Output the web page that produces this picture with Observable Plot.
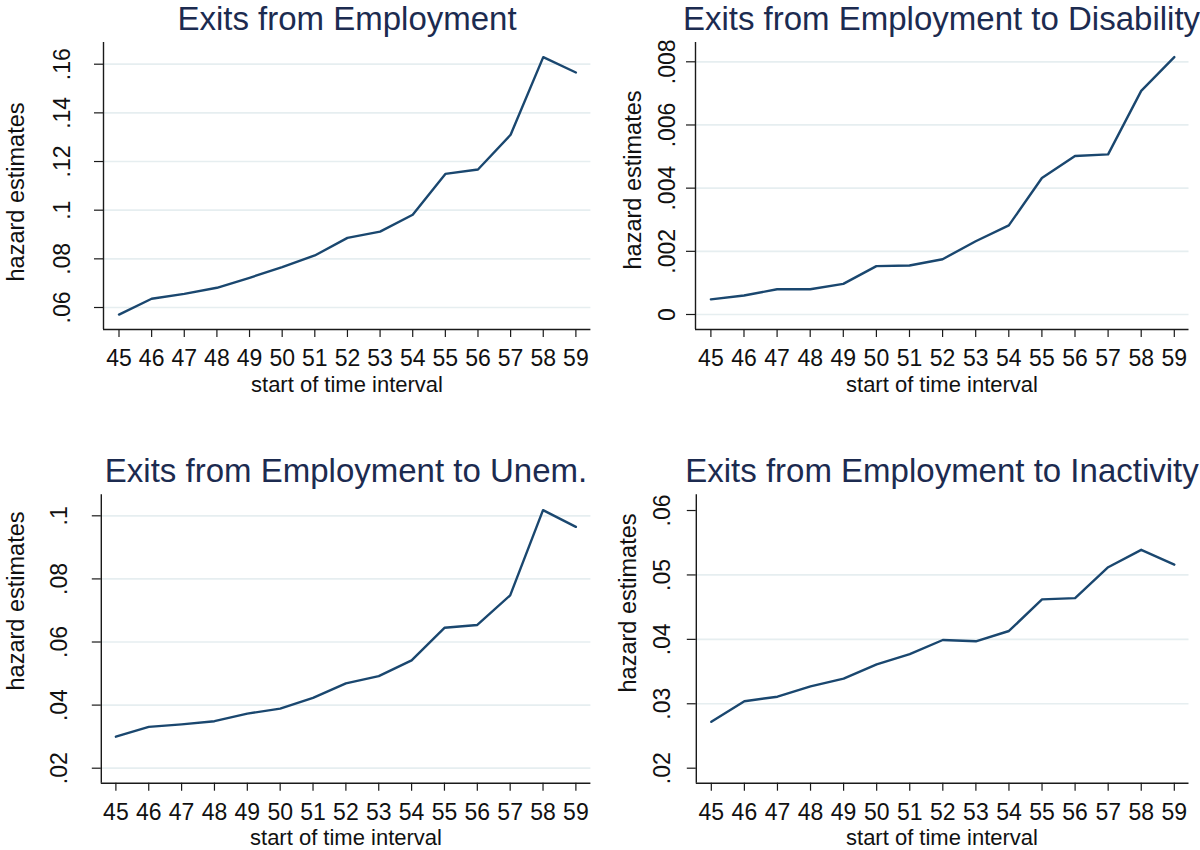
<!DOCTYPE html>
<html>
<head>
<meta charset="utf-8">
<script src="https://cdn.jsdelivr.net/npm/d3@7"></script>
<script src="https://cdn.jsdelivr.net/npm/@observablehq/plot@0.6"></script>
<style>
  body { margin: 0; background: #ffffff; }
  #wrap { position: relative; width: 1200px; height: 850px; overflow: hidden; background: #fff;
          font-family: "Liberation Sans", Arial, Helvetica, sans-serif; }
  .panel { position: absolute; }
  #overlay { position: absolute; left: 0; top: 0; pointer-events: none; }
</style>
</head>
<body>
<div id="wrap"></div>
<script>
// ---- data ----
const ages = [45, 46, 47, 48, 49, 50, 51, 52, 53, 54, 55, 56, 57, 58, 59];
const exitsAll        = [0.0571, 0.0636, 0.0656, 0.0681, 0.0722, 0.0766, 0.0814, 0.0886, 0.0912, 0.0981, 0.1149, 0.1167, 0.1310, 0.1629, 0.1566];
const exitsDisability = [0.00048, 0.00060, 0.00080, 0.00080, 0.00097, 0.00153, 0.00155, 0.00175, 0.00232, 0.00282, 0.00432, 0.00502, 0.00507, 0.00708, 0.00815];
const exitsUnem       = [0.0300, 0.0331, 0.0339, 0.0349, 0.0373, 0.0389, 0.0423, 0.0469, 0.0492, 0.0542, 0.0645, 0.0654, 0.0748, 0.1018, 0.0965];
const exitsInactivity = [0.0272, 0.0304, 0.0311, 0.0327, 0.0339, 0.0361, 0.0377, 0.0399, 0.0397, 0.0413, 0.0462, 0.0464, 0.0512, 0.0539, 0.0516];

const titles = ["Exits from Employment", "Exits from Employment to Disability",
                "Exits from Employment to Unem.", "Exits from Employment to Inactivity"];
const xTitle = "start of time interval";
const yTitle = "hazard estimates";

const yTicksAll = [0.06, 0.08, 0.10, 0.12, 0.14, 0.16];
const yLabelsAll = [".06", ".08", ".1", ".12", ".14", ".16"];
const yTicksDis = [0, 0.002, 0.004, 0.006, 0.008];
const yLabelsDis = ["0", ".002", ".004", ".006", ".008"];
const yTicksUnem = [0.02, 0.04, 0.06, 0.08, 0.10];
const yLabelsUnem = [".02", ".04", ".06", ".08", ".1"];
const yTicksInact = [0.02, 0.03, 0.04, 0.05, 0.06];
const yLabelsInact = [".02", ".03", ".04", ".05", ".06"];
const gridInact = [0.03, 0.04, 0.05];

// ---- layout (styles & positions) ----
const FONT = '"Liberation Sans", Arial, Helvetica, sans-serif';
const LINE = "#1a476f", GRID = "#e6eef0", AXIS = "#1a1a1a", TITLE = "#1c2b50";
const panels = [
  { series: exitsAll, title: titles[0], ticks: yTicksAll, labels: yLabelsAll, grid: yTicksAll,
    left: 0, top: 0, w: 600, h: 425, mL: 103, mR: 9.6, mT: 42, mB: 96,
    xDom: [44.525, 59.46], yDom: [0.05096, 0.16892], tickDx: -40.5,
    titleX: 347, titleY: 29.5, ylabX: 23.5, ylabY: 192, xlabX: 347, xlabY: 392 },
  { series: exitsDisability, title: titles[1], ticks: yTicksDis, labels: yLabelsDis, grid: yTicksDis,
    left: 600, top: 0, w: 600, h: 425, mL: 95, mR: 11.5, mT: 42, mB: 96,
    xDom: [44.535, 59.444], yDom: [-0.000475, 0.008611], tickDx: -28.3,
    titleX: 941.5, titleY: 29.5, ylabX: 641, ylabY: 180, xlabX: 942, xlabY: 392 },
  { series: exitsUnem, title: titles[2], ticks: yTicksUnem, labels: yLabelsUnem, grid: yTicksUnem,
    left: 0, top: 425, w: 600, h: 425, mL: 100.8, mR: 9.6, mT: 69.3, mB: 67.3,
    xDom: [44.556, 59.457], yDom: [0.015246, 0.10666], tickDx: -41.6,
    titleX: 346, titleY: 481.5, ylabX: 23.5, ylabY: 601, xlabX: 346, xlabY: 845 },
  { series: exitsInactivity, title: titles[3], ticks: yTicksInact, labels: yLabelsInact, grid: gridInact,
    left: 600, top: 425, w: 600, h: 425, mL: 95.8, mR: 11.5, mT: 69.3, mB: 67.3,
    xDom: [44.546, 59.444], yDom: [0.01767, 0.06244], tickDx: -33.3,
    titleX: 942, titleY: 481.5, ylabX: 636, ylabY: 603, xlabX: 942, xlabY: 845 }
];

const wrap = document.getElementById("wrap");

for (const p of panels) {
  const data = ages.map((a, i) => ({ age: a, v: p.series[i] }));
  const tickData = p.ticks.map((t, i) => ({ t, lab: p.labels[i] }));
  const chart = Plot.plot({
    width: p.w, height: p.h,
    marginLeft: p.mL, marginRight: p.mR, marginTop: p.mT, marginBottom: p.mB,
    style: { fontFamily: FONT, fontSize: "23px", color: "#111", background: "transparent", overflow: "visible" },
    x: { type: "linear", domain: p.xDom },
    y: { type: "linear", domain: p.yDom },
    marks: [
      Plot.gridY(p.grid, { stroke: GRID, strokeOpacity: 1, strokeWidth: 1.7 }),
      Plot.axisX(ages, { tickSize: 8, tickPadding: 12, tickFormat: d => String(d), label: null,
                         stroke: AXIS, strokeWidth: 1.2, fill: "#111", fontSize: 23 }),
      Plot.axisY(p.ticks, { tickSize: 9, tickFormat: () => "", label: null, stroke: AXIS, strokeWidth: 1.2 }),
      Plot.text(tickData, { y: "t", text: "lab", frameAnchor: "left", dx: p.tickDx, rotate: -90,
                            textAnchor: "middle", lineAnchor: "middle", fontSize: 23, fill: "#111" }),
      Plot.ruleY([p.yDom[0]], { stroke: AXIS, strokeWidth: 1.4 }),
      Plot.ruleX([p.xDom[0]], { stroke: AXIS, strokeWidth: 1.4 }),
      Plot.line(data, { x: "age", y: "v", stroke: LINE, strokeWidth: 2.4, strokeLinejoin: "round" })
    ]
  });
  const div = document.createElement("div");
  div.className = "panel";
  div.style.left = p.left + "px";
  div.style.top = p.top + "px";
  div.appendChild(chart);
  wrap.appendChild(div);
}

// ---- overlay text: titles & axis titles ----
const svg = d3.select(wrap).append("svg").attr("id", "overlay")
  .attr("width", 1200).attr("height", 850)
  .style("font-family", FONT);

for (const p of panels) {
  svg.append("text").attr("x", p.titleX).attr("y", p.titleY)
    .attr("text-anchor", "middle").attr("font-size", 33).attr("fill", TITLE).text(p.title);
  svg.append("text").attr("x", p.xlabX).attr("y", p.xlabY)
    .attr("text-anchor", "middle").attr("font-size", 22).attr("fill", "#111").text(xTitle);
  svg.append("text").attr("transform", `translate(${p.ylabX},${p.ylabY}) rotate(-90)`)
    .attr("text-anchor", "middle").attr("font-size", 23.5).attr("fill", "#111").text(yTitle);
}
</script>
</body>
</html>
